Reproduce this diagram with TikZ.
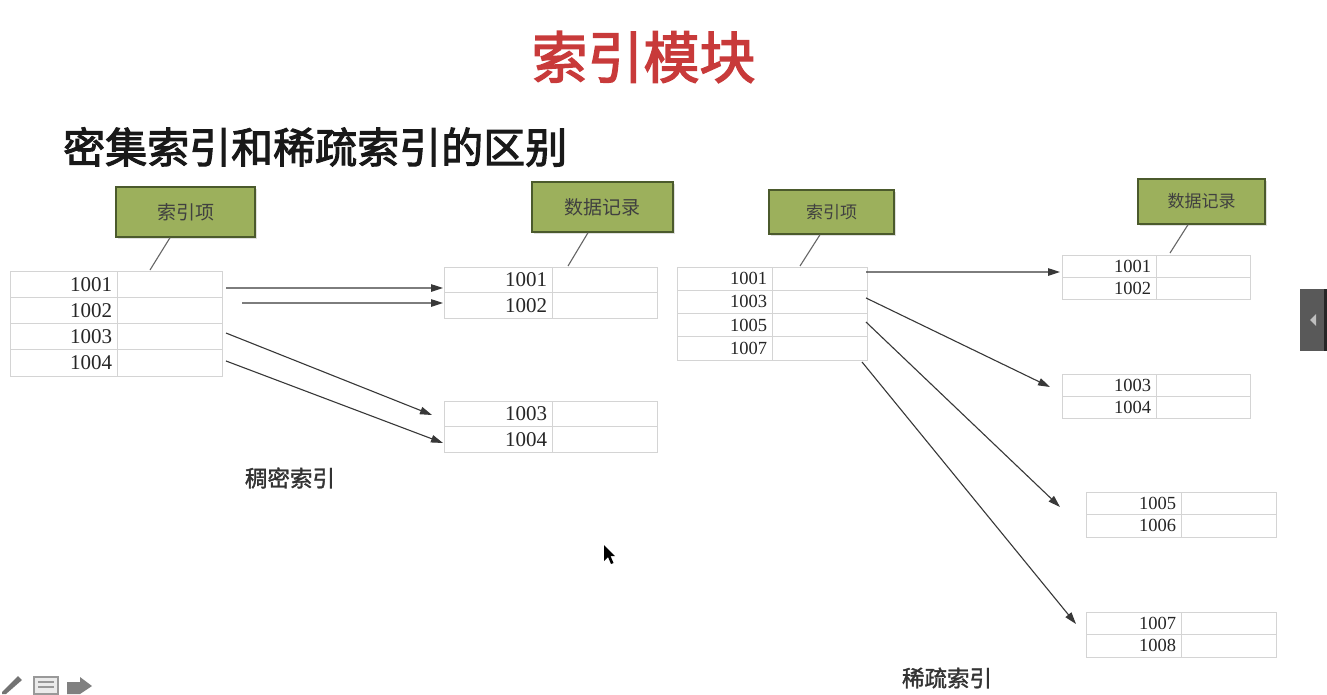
\documentclass[tikz,border=0pt]{standalone}
\usepackage{fontspec}
\setmainfont{Liberation Serif}
\newfontfamily\cjk{Noto Sans CJK SC}[AutoFakeBold=2.5]
\newfontfamily\cjkb{Noto Sans CJK SC}[FakeBold=1.5]
\usetikzlibrary{arrows.meta,calc,shadows}
\definecolor{gridgray}{HTML}{D4D4D4}
\definecolor{boxgreen}{HTML}{9CB05C}
\definecolor{boxedge}{HTML}{4B5A2C}
\definecolor{titlered}{HTML}{C83A3A}
\definecolor{arrowgray}{HTML}{383838}
\tikzset{
  cellbox/.style={draw=gridgray, line width=1pt, anchor=north west, inner ysep=0pt, outer sep=0pt},
  tagbox/.style={draw=boxedge, line width=1.4pt, fill=boxgreen, text=black!75, inner sep=0pt,
    drop shadow={shadow xshift=2pt, shadow yshift=-2pt, opacity=0.25}},
  arr/.style={draw=arrowgray, line width=1.1pt, -{Triangle[length=12pt,width=7.5pt]}},
  ptr/.style={draw=black!60, line width=1.1pt},
  caption/.style={text=black!80, font=\cjkb\fontsize{22.5}{22.5}\selectfont},
}
% \trow{name}{x}{y}{w1}{w2}{h}{text}{fontsize}
\newcommand{\trow}[8]{%
  \pgfmathsetmacro\tw{#4-10}%
  \node[cellbox, minimum width=#4pt, minimum height=#6pt, text width=\tw pt, align=right, inner xsep=5pt,
        text=black!85, font=\fontsize{#8}{#8}\selectfont] (#1a) at (#2,#3) {\raisebox{-2pt}{#7}};
  \node[cellbox, minimum width=#5pt, minimum height=#6pt] (#1b) at (#2+#4,#3) {};
}
\begin{document}
\begin{tikzpicture}[x=1pt,y=-1pt]
\fill[white] (0,0) rectangle (1327,694);
\useasboundingbox (0,0) rectangle (1327,694);

% titles
\node[text=titlered, font=\cjk\bfseries\fontsize{56}{56}\selectfont] (title) at (643.5,57) {索引模块};
\node[anchor=west, text=black!90, font=\cjk\bfseries\fontsize{42}{42}\selectfont, inner sep=0pt] (sub) at (63,147) {密集索引和稀疏索引的区别};

% left dense index table
\trow{L1}{10}{271}{107}{105}{26.25}{1001}{21}
\trow{L2}{10}{297.25}{107}{105}{26.25}{1002}{21}
\trow{L3}{10}{323.5}{107}{105}{26.25}{1003}{21}
\trow{L4}{10}{349.75}{107}{105}{26.25}{1004}{21}

% middle data tables
\trow{M1}{444}{267}{108}{105}{25.5}{1001}{21}
\trow{M2}{444}{292.5}{108}{105}{25.5}{1002}{21}
\trow{N1}{444}{401}{108}{105}{25.5}{1003}{21}
\trow{N2}{444}{426.5}{108}{105}{25.5}{1004}{21}

% right sparse index table
\trow{R1}{677}{267}{95}{95}{23.25}{1001}{18.5}
\trow{R2}{677}{290.25}{95}{95}{23.25}{1003}{18.5}
\trow{R3}{677}{313.5}{95}{95}{23.25}{1005}{18.5}
\trow{R4}{677}{336.75}{95}{95}{23.25}{1007}{18.5}

% right data tables
\trow{D1}{1062}{255}{94}{94}{22}{1001}{18.5}
\trow{D2}{1062}{277}{94}{94}{22}{1002}{18.5}
\trow{E1}{1062}{374}{94}{94}{22}{1003}{18.5}
\trow{E2}{1062}{396}{94}{94}{22}{1004}{18.5}
\trow{F1}{1086}{492}{95}{95}{22.5}{1005}{18.5}
\trow{F2}{1086}{514.5}{95}{95}{22.5}{1006}{18.5}
\trow{H1}{1086}{612}{95}{95}{22.5}{1007}{18.5}
\trow{H2}{1086}{634.5}{95}{95}{22.5}{1008}{18.5}

% green tag boxes
\node[tagbox, minimum width=139pt, minimum height=50pt, font=\cjk\fontsize{19}{19}\selectfont] (G1) at (185.5,212) {索引项};
\node[tagbox, minimum width=141pt, minimum height=50pt, font=\cjk\fontsize{19}{19}\selectfont] (G2) at (602.5,207) {数据记录};
\node[tagbox, minimum width=125pt, minimum height=44pt, font=\cjk\fontsize{17}{17}\selectfont] (G3) at (831.5,212) {索引项};
\node[tagbox, minimum width=127pt, minimum height=45pt, font=\cjk\fontsize{17}{17}\selectfont] (G4) at (1201.5,201.5) {数据记录};

% pointers
\draw[ptr] ($(G1.south)+(-15.5,0)$) -- ($(L1b.north)+(-19.5,-1)$);
\draw[ptr] ($(G2.south)+(-14.5,0)$) -- ($(M1b.north)+(-36.5,-1)$);
\draw[ptr] ($(G3.south)+(-11.5,0)$) -- ($(R1b.north)+(-19.5,-1)$);
\draw[ptr] ($(G4.south)+(-13.5,0)$) -- ($(D1b.north)+(-33,-2)$);

% dense arrows
\draw[arr] ($(L1b.east)+(4,3.9)$) -- ($(M1a.west)+(-1,8.25)$);
\draw[arr] ($(L2b.east)+(20,-7.4)$) -- ($(M2a.west)+(-1,-2.25)$);
\draw[arr] ($(L3b.east)+(4,-3.6)$) -- ($(N1a.west)+(-12,1.25)$);
\draw[arr] ($(L4b.east)+(4,-1.9)$) -- ($(N2a.west)+(-1,3.75)$);

% sparse arrows
\draw[arr] ($(R1b.east)+(-1,-6.6)$) -- ($(D1a.west)+(-2,6)$);
\draw[arr] ($(R2b.east)+(-1,-3.9)$) -- ($(E1a.west)+(-12,2)$);
\draw[arr] ($(R3b.east)+(-1,-3.1)$) -- ($(F1a.west)+(-26,3.75)$);
\draw[arr] ($(R4b.east)+(-5,13.6)$) -- ($(H1a.west)+(-10,0.75)$);

% captions
\node[caption] (cap1) at (290,478) {稠密索引};
\node[caption] (cap2) at (947,678) {稀疏索引};

% screen artefacts: side tab, cursor, toolbar icons
\fill[black!65] (1300,289) rectangle (1327,351);
\fill[black!85] (1324,289) rectangle (1327,351);
\fill[black!25] (1316,314) -- (1316,326) -- (1310,320) -- cycle;
\fill[black] (604,545) -- (604,561) -- (608,557) -- (611,564) -- (613.5,563) -- (610.5,556) -- (615,556) -- cycle;
\fill[black!55] (2,692) -- (18,676) -- (22,680) -- (6,694) -- (2,694) -- cycle;
\draw[black!40, line width=1.5pt, fill=black!8] (34,677) rectangle (58,694);
\draw[black!40, line width=1.5pt] (38,682) -- (54,682) (38,687) -- (54,687);
\fill[black!50] (67,682) -- (80,682) -- (80,677) -- (92,686) -- (80,694) -- (67,694) -- cycle;
\end{tikzpicture}
\end{document}
